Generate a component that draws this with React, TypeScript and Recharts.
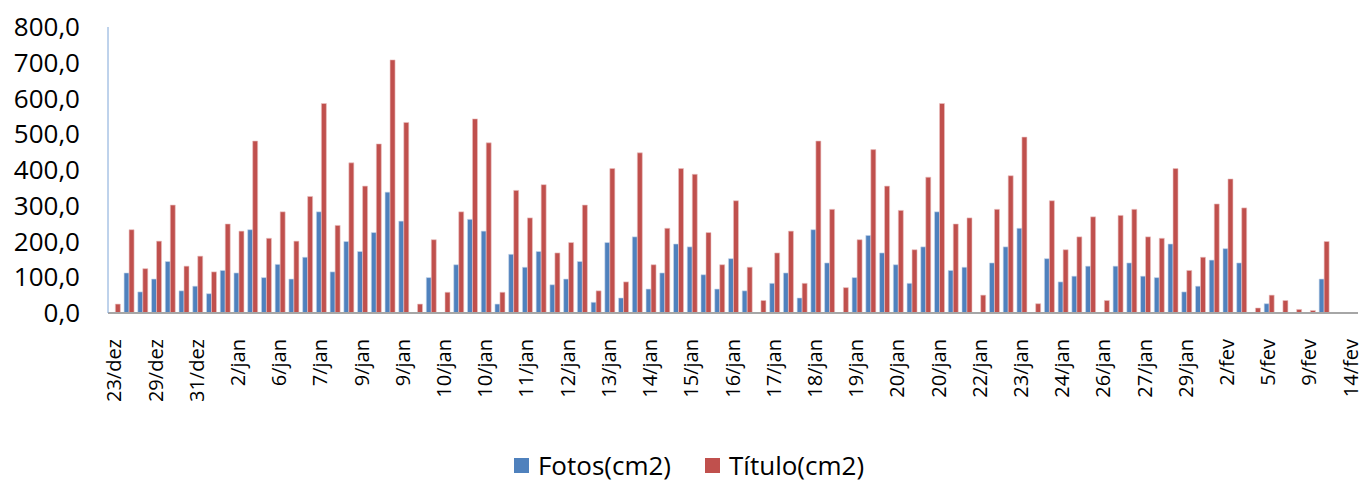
import { BarChart, Bar, XAxis, YAxis, Legend } from "recharts";

// every third day gets a label on the axis
const TICK_LABELS = [
  "23/dez", "29/dez", "31/dez", "2/jan", "6/jan", "7/jan", "9/jan", "9/jan",
  "10/jan", "10/jan", "11/jan", "12/jan", "13/jan", "14/jan", "15/jan", "16/jan",
  "17/jan", "18/jan", "19/jan", "20/jan", "20/jan", "22/jan", "23/jan", "24/jan",
  "26/jan", "27/jan", "29/jan", "2/fev", "5/fev", "9/fev", "14/fev",
];

const FOTOS = [
  0, 112, 59, 95, 144, 62, 75, 54, 119, 112, 233, 99, 136, 95, 156, 283,
  115, 200, 172, 225, 338, 257, 0, 99, 0, 135, 262, 229, 25, 164, 128, 172,
  79, 95, 144, 30, 197, 42, 213, 67, 112, 193, 185, 107, 67, 152, 62, 0,
  83, 112, 42, 233, 140, 0, 99, 217, 168, 135, 83, 185, 283, 119, 128, 0,
  140, 185, 237, 0, 152, 87, 103, 131, 0, 131, 140, 103, 99, 193, 59, 75,
  148, 180, 140, 0, 26, 0, 0, 0, 95, 0, 0,
];

const TITULO = [
  25, 233, 124, 201, 302, 131, 159, 115, 249, 229, 481, 209, 283, 201, 326, 586,
  245, 420, 355, 473, 708, 533, 25, 205, 58, 283, 543, 476, 58, 343, 266, 359,
  168, 197, 302, 62, 404, 87, 448, 135, 237, 404, 388, 225, 135, 314, 128, 35,
  168, 229, 83, 481, 290, 71, 205, 457, 355, 287, 177, 380, 586, 249, 266, 50,
  290, 384, 492, 26, 314, 177, 213, 269, 35, 273, 290, 213, 209, 404, 119, 156,
  305, 375, 294, 14, 50, 35, 10, 7, 200, 0, 0,
];

const Y_TICKS = [0, 100, 200, 300, 400, 500, 600, 700, 800];

const data = FOTOS.map((f, i) => ({ idx: i, fotos: f, titulo: TITULO[i] }));

const FONT = "'Open Sans', sans-serif";

function DateTick({ x, y, payload }: any) {
  const i = Number(payload.value);
  const label = i % 3 === 0 ? TICK_LABELS[i / 3] : "";
  const tx = x - 1;
  return (
    <text
      x={tx}
      y={y}
      transform={`rotate(-90, ${tx}, ${y})`}
      textAnchor="end"
      dominantBaseline="central"
      fontSize={20}
      fontFamily={FONT}
      fill="#000"
    >
      {label}
    </text>
  );
}

function LegendBox({ payload }: any) {
  return (
    <div
      style={{
        display: "flex",
        justifyContent: "center",
        gap: 34,
        paddingLeft: 12,
        fontFamily: FONT,
        fontSize: 26,
        color: "#000",
        lineHeight: "32px",
        height: 32,
      }}
    >
      {(payload || []).map((p: any) => (
        <span key={p.value} style={{ display: "flex", alignItems: "center" }}>
          <span
            style={{
              width: 15,
              height: 15,
              background: p.color,
              display: "inline-block",
              marginRight: 9,
            }}
          />
          {p.value}
        </span>
      ))}
    </div>
  );
}

export default function App() {
  return (
    <div style={{ position: "absolute", left: 0, top: 0, background: "#fff" }}>
      <BarChart
        width={1364}
        height={481}
        data={data}
        margin={{ top: 27, right: 6, left: 8, bottom: 0 }}
        barCategoryGap="17%"
        barGap={0}
      >
        <XAxis
          dataKey="idx"
          type="category"
          interval={2}
          height={136}
          tick={<DateTick />}
          tickLine={false}
          tickMargin={20}
          axisLine={{ stroke: "#A6A6A6", strokeWidth: 2 }}
        />
        <YAxis
          domain={[0, 800]}
          ticks={Y_TICKS}
          width={100}
          tickFormatter={(v: number) => v.toFixed(1).replace(".", ",")}
          tick={{ fill: "#000", fontSize: 26, fontFamily: FONT }}
          tickLine={false}
          tickSize={0}
          tickMargin={28}
          axisLine={{ stroke: "#7EA6D8", strokeWidth: 1 }}
        />
        <Legend verticalAlign="bottom" height={32} content={<LegendBox />} />
        <Bar
          dataKey="fotos"
          name="Fotos(cm2)"
          fill="#4F81BD"
          stroke="#C9D8EC"
          strokeWidth={0.6}
          isAnimationActive={false}
        />
        <Bar
          dataKey="titulo"
          name="Título(cm2)"
          fill="#C0504D"
          stroke="#EBC3C2"
          strokeWidth={0.6}
          isAnimationActive={false}
        />
      </BarChart>
    </div>
  );
}
